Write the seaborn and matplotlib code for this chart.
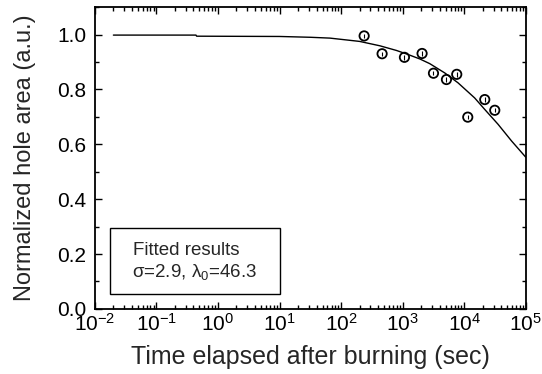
import numpy as np
import pandas as pd
import matplotlib
matplotlib.use("Agg")
import matplotlib.pyplot as plt
import seaborn as sns
from matplotlib.patches import Rectangle
from matplotlib.ticker import LogLocator, MultipleLocator, FixedLocator

# measured data
time_s = [237, 464, 1070, 2070, 3170, 5150, 7570, 11430, 21600, 31400]
area = [0.995, 0.930, 0.917, 0.931, 0.859, 0.836, 0.855, 0.699, 0.763, 0.724]
area_err = [0.008, 0.008, 0.008, 0.008, 0.008, 0.008, 0.008, 0.008, 0.008, 0.008]

# fitted curve
fit_t = [0.02, 0.44, 0.45, 10, 32, 66, 200, 427, 794, 1200, 1905, 2754,
         4842, 7943, 14791, 21580, 35480, 58880, 100000]
fit_y = [0.998, 0.998, 0.994, 0.993, 0.990, 0.987, 0.975, 0.959, 0.942, 0.928, 0.911, 0.894,
         0.860, 0.824, 0.769, 0.727, 0.673, 0.612, 0.553]

x_ticks = [1e-2, 1e-1, 1e0, 1e1, 1e2, 1e3, 1e4, 1e5]
x_labels = ["$10^{-2}$", "$10^{-1}$", "$10^{0}$", "$10^{1}$", "$10^{2}$", "$10^{3}$", "$10^{4}$", "$10^{5}$"]
y_ticks = [0.0, 0.2, 0.4, 0.6, 0.8, 1.0]
box_lines = ["Fitted results", "σ=2.9, λ$_0$=46.3"]

sns.set_theme(style="ticks")
plt.rcParams["font.family"] = ["Liberation Sans", "DejaVu Sans"]
plt.rcParams["mathtext.fontset"] = "custom"
plt.rcParams["mathtext.rm"] = "Liberation Sans"
plt.rcParams["mathtext.it"] = "Liberation Sans:italic"

fig = plt.figure(figsize=(5.42, 3.74), dpi=100)
ax = fig.add_axes([0.175, 0.174, 0.795, 0.807])

fit_df = pd.DataFrame({"t": fit_t, "y": fit_y})
sns.lineplot(data=fit_df, x="t", y="y", estimator=None, sort=False, color="black", lw=1.0, ax=ax)

pts = pd.DataFrame({"t": time_s, "a": area})
ax.errorbar(time_s, area, yerr=area_err, fmt="none", ecolor="black", elinewidth=0.8, capsize=0, zorder=3)
sns.scatterplot(data=pts, x="t", y="a", marker="o", s=45, facecolor="none", edgecolor="black",
                linewidth=1.3, ax=ax, zorder=4)

ax.set_xscale("log")
ax.set_xlim(1e-2, 1e5)
ax.set_ylim(0, 1.1)
ax.xaxis.set_major_locator(FixedLocator(x_ticks))
ax.set_xticklabels(x_labels)
ax.xaxis.set_minor_locator(LogLocator(base=10, subs=np.arange(2, 10), numticks=20))
ax.set_yticks(y_ticks)
ax.set_yticklabels([f"{v:.1f}" for v in y_ticks])
ax.yaxis.set_minor_locator(MultipleLocator(0.1))

ax.tick_params(which="both", direction="in", top=True, right=True, width=1.0, colors="black")
ax.tick_params(which="major", length=5, labelsize=15)
ax.tick_params(axis="x", which="major", pad=3)
ax.tick_params(axis="y", which="major", pad=6)
ax.tick_params(which="minor", length=3)
for s in ax.spines.values():
    s.set_linewidth(1.3)
    s.set_color("black")

ax.set_xlabel("Time elapsed after burning (sec)", fontsize=18, labelpad=7)
ax.set_ylabel("Normalized hole area (a.u.)", fontsize=17, labelpad=15)

ax.add_patch(Rectangle((0.035, 0.05), 0.394, 0.218, transform=ax.transAxes,
                       facecolor="white", edgecolor="black", linewidth=1.0, zorder=5))
ax.text(0.088, 0.195, box_lines[0], transform=ax.transAxes, fontsize=13.5,
        va="center", ha="left", zorder=6)
ax.text(0.086, 0.123, box_lines[1], transform=ax.transAxes, fontsize=13.5,
        va="center", ha="left", zorder=6)

fig.savefig("out.png", dpi=100)
